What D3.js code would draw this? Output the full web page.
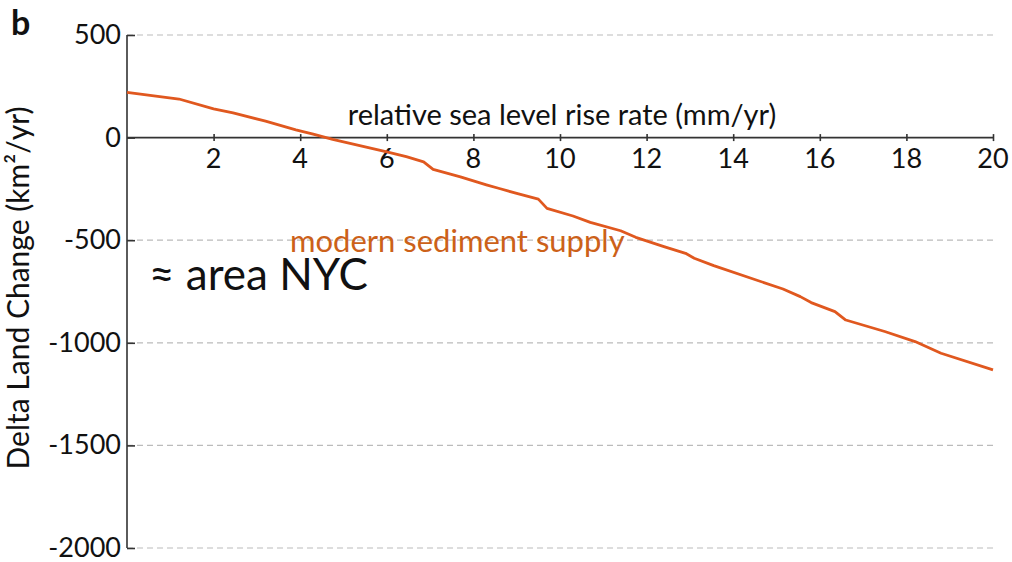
<!DOCTYPE html>
<meta charset="utf-8">
<style>
    body { margin: 0; background: #fff; }
    svg text { font-family: Lato, "Open Sans", sans-serif; fill: #111; }
    .grid line { stroke: #bbb; stroke-width: 1.2px; stroke-dasharray: 6,4; }
    .axis path, .axis line { stroke: #333; stroke-width: 1.6px; }
    .curve { fill: none; stroke: #e0581f; stroke-width: 2.8px; stroke-linejoin: round; }
</style>
<svg id="svg" width="1012" height="562"></svg>
<script src="https://d3js.org/d3.v7.min.js"></script>
<script>

// relative sea level rise rate (mm/yr)
var rslr = [0, 1.2, 2.0, 2.45, 3.2, 3.9, 4.3, 4.75, 6.0, 6.45, 6.85, 7.07, 7.7, 8.3, 8.6, 9.0, 9.5, 9.7,
            10.3, 10.7, 11.4, 11.75, 12.4, 12.9, 13.1, 13.55, 15.15, 15.55, 15.8, 16.35, 16.6, 17.5, 18.2, 18.8, 20];
// delta land change (km2/yr), modern sediment supply
var landChange = [220, 188, 140, 120, 80, 38, 17, -9, -70, -93, -118, -155, -191, -230, -248, -272, -300, -345,
                  -382, -413, -454, -486, -531, -564, -588, -624, -738, -775, -804, -848, -889, -945, -994, -1051, -1132];

var xTicks = [2, 4, 6, 8, 10, 12, 14, 16, 18, 20];
var yTicks = [500, 0, -500, -1000, -1500, -2000];
var gridTicks = [500, -500, -1000, -1500, -2000];

var svg = d3.select("#svg");

var x = d3.scaleLinear().domain([0, 20]).range([127, 993]);
var y = d3.scaleLinear().domain([-2000, 500]).range([548, 35]);

// dashed gridlines
svg.append("g").attr("class", "grid")
  .selectAll("line").data(gridTicks).enter().append("line")
    .attr("x1", x(0)).attr("x2", x(20))
    .attr("y1", function(d) { return y(d); })
    .attr("y2", function(d) { return y(d); });

// y axis, ticks pointing inward
var yAxis = svg.append("g").attr("class", "axis")
    .attr("transform", "translate(" + x(0) + ",0)")
    .call(d3.axisRight(y).tickValues(yTicks).tickSize(8).tickSizeOuter(0).tickFormat(""));
yAxis.select(".domain").attr("d", "M0," + y(500) + "V" + y(-2000));

svg.append("g").selectAll("text").data(yTicks).enter().append("text")
    .attr("x", 121).attr("y", function(d) { return y(d) + 9; })
    .attr("text-anchor", "end")
    .style("font-size", "27px")
    .text(function(d) { return d; });

// x axis through zero
var xAxis = svg.append("g").attr("class", "axis")
    .attr("transform", "translate(0," + y(0) + ")")
    .call(d3.axisBottom(x).tickValues(xTicks).tickSize(0).tickFormat(""));
xAxis.select(".domain").attr("d", "M" + x(0) + ",0H" + x(20));
xAxis.selectAll(".tick line").attr("y1", -3.5).attr("y2", 3.5);

svg.append("g").selectAll("text").data(xTicks).enter().append("text")
    .attr("x", function(d) { return x(d); }).attr("y", y(0) + 30)
    .attr("text-anchor", "middle")
    .style("font-size", "27px")
    .text(function(d) { return d; });

svg.append("text")
    .attr("x", 562).attr("y", y(0) - 13)
    .attr("text-anchor", "middle")
    .style("font-size", "29px")
    .text("relative sea level rise rate (mm/yr)");

svg.append("text")
    .attr("transform", "translate(29,288) rotate(-90)")
    .attr("text-anchor", "middle")
    .style("font-size", "30px")
    .text("Delta Land Change (km\u00B2/yr)");

svg.append("text")
    .attr("x", 11).attr("y", 35)
    .style("font-size", "34px").style("font-weight", "bold")
    .text("b");

// the curve
var line = d3.line()
    .x(function(d, i) { return x(rslr[i]); })
    .y(function(d) { return y(d); });

svg.append("path").datum(landChange)
    .attr("class", "curve")
    .attr("d", line);

svg.append("text")
    .attr("x", 290).attr("y", 252)
    .style("font-size", "31px")
    .style("fill", "#cc6119")
    .text("modern sediment supply");

svg.append("text")
    .attr("x", 149).attr("y", 290)
    .style("font-size", "44px")
    .text("\u2248 area NYC");

</script>
